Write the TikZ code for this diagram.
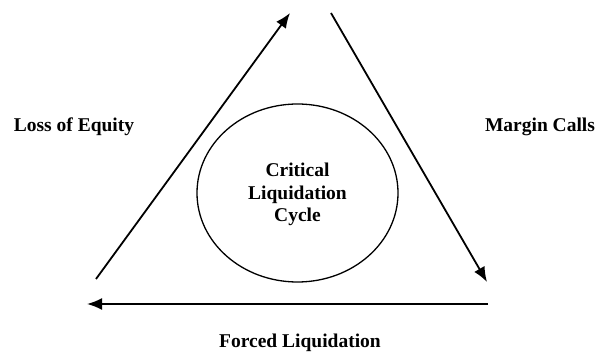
\documentclass[tikz,border=0pt]{standalone}
\usepackage{fontspec}
\setmainfont{Liberation Serif}
\usetikzlibrary{arrows.meta,shapes.geometric}

\begin{document}
\begin{tikzpicture}[x=1pt,y=-1pt,
    lbl/.style={font=\bfseries\fontsize{19.5}{22.5}\selectfont,inner sep=0pt,align=center},
    arr/.style={line width=1.8pt,-{Latex[length=15pt,width=12pt]}}]
        \useasboundingbox (0,0) rectangle (600,358); % page size
        \coordinate (botleft) at (96,279); % start of left side
        \coordinate (top) at (290,13); % tip of left side
        \coordinate (topright) at (331,13); % start of right side
        \coordinate (right) at (487,282); % tip of right side
        \coordinate (botright) at (488,304); % start of bottom side
        \coordinate (left) at (87,304); % tip of bottom side
        \draw[arr] (botleft) -- (top); % equity arrow
        \draw[arr] (topright) -- (right); % margin arrow
        \draw[arr] (botright) -- (left); % liquidation arrow
        \node[draw,ellipse,line width=1.3pt,minimum width=201pt,minimum height=178pt,inner sep=0pt]
        (core) at (297.5,193) {}; % the cycle
        \node[lbl] (corelbl) at (297.5,194.5) {Critical\\Liquidation\\Cycle};
        \node[lbl,anchor=base] (equity) at (74,132) {Loss of Equity};
        \node[lbl,anchor=base] (margin) at (540,132) {Margin Calls};
        \node[lbl,anchor=base] (forced) at (300,347) {Forced Liquidation};
    \end{tikzpicture}
\end{document}
